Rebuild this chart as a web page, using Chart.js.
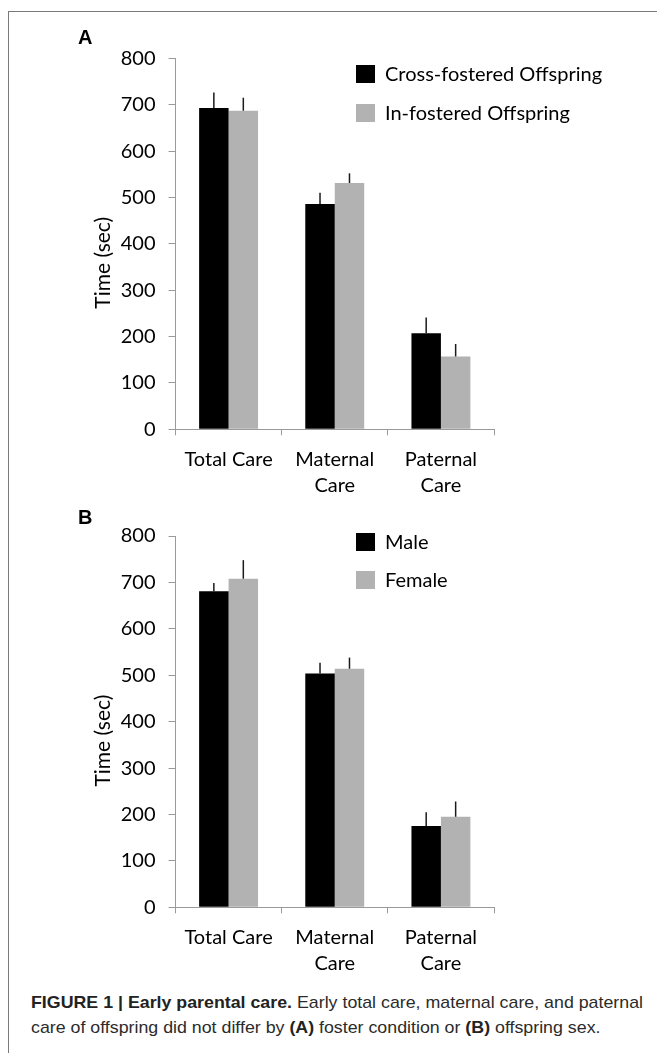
<!DOCTYPE html>
<html>
<head>
<meta charset="utf-8">
<script src="https://cdn.jsdelivr.net/npm/chart.js@4.4.1/dist/chart.umd.min.js"></script>
<style>
html,body{margin:0;padding:0;background:#fff;}
#wrap{position:relative;width:657px;height:1053px;overflow:hidden;background:#fff;}
#frame{position:absolute;left:8px;top:11px;width:800px;height:1200px;border-left:1.5px solid #7a7a7a;border-top:1.5px solid #7a7a7a;}
canvas{position:absolute;left:0;}
#cvA{top:0;}
#cvB{top:500px;}
#cap{position:absolute;left:31px;top:990px;font-family:"Liberation Sans Narrow","Liberation Sans",Arial,sans-serif;font-size:17px;color:#2b2b2b;line-height:25px;white-space:nowrap;transform-origin:0 0;}
#cap b{color:#222;}
</style>
</head>
<body>
<div id="wrap">
  <div id="frame"></div>
  <canvas id="cvA" width="657" height="500"></canvas>
  <canvas id="cvB" width="657" height="490"></canvas>
  <div id="cap"><span id="l1"><b>FIGURE 1 | Early parental care.</b> Early total care, maternal care, and paternal</span><br><span id="l2">care of offspring did not differ by <b>(A)</b> foster condition or <b>(B)</b> offspring sex.</span></div>
</div>
<script>
// ---- data ----
const categories = [["Total Care"], ["Maternal", "Care"], ["Paternal", "Care"]];
const yTickMin = 0, yTickMax = 800, yTickStep = 100;
const yAxisTitle = "Time (sec)";

const panelALabel = "A";
const seriesA1Name = "Cross-fostered Offspring";
const seriesA1 = [693, 486, 207];
const seriesA1Err = [33, 24, 34];
const seriesA2Name = "In-fostered Offspring";
const seriesA2 = [687, 531, 157];
const seriesA2Err = [28, 21, 27];

const panelBLabel = "B";
const seriesB1Name = "Male";
const seriesB1 = [681, 504, 175];
const seriesB1Err = [18, 23, 30];
const seriesB2Name = "Female";
const seriesB2 = [708, 514, 195];
const seriesB2Err = [40, 24, 33];

const BLACK = "#000000", GREY = "#b2b2b2", AXIS = "#9a9a9a";
const FONT = "Lato";

const errorBars = {
  id: "errorBars",
  afterDatasetsDraw(chart) {
    const ctx = chart.ctx, ys = chart.scales.y;
    chart.data.datasets.forEach((ds, i) => {
      const meta = chart.getDatasetMeta(i);
      meta.data.forEach((bar, j) => {
        const top = ys.getPixelForValue(ds.data[j] + ds.errors[j]);
        ctx.save();
        ctx.strokeStyle = "#1a1a1a";
        ctx.lineWidth = 1.5;
        ctx.beginPath();
        ctx.moveTo(bar.x, bar.y);
        ctx.lineTo(bar.x, top);
        ctx.stroke();
        ctx.restore();
      });
    });
  }
};

const decorations = {
  id: "decorations",
  afterDraw(chart, args, opts) {
    const ctx = chart.ctx, ca = chart.chartArea;
    ctx.save();
    ctx.font = "bold 20px 'Liberation Sans', Arial, sans-serif";
    ctx.fillStyle = "#000";
    ctx.textAlign = "left";
    ctx.textBaseline = "middle";
    ctx.fillText(opts.panel, opts.panelX, opts.panelY);
    ctx.font = "21px " + FONT;
    ctx.fillStyle = "#000";
    ctx.textAlign = "center";
    ctx.translate(ca.left - 72.5, (ca.top + ca.bottom) / 2 + 19);
    ctx.rotate(-Math.PI / 2);
    ctx.fillText(yAxisTitle, 0, 0);
    ctx.restore();
    ctx.save();
    ctx.font = "20px " + FONT;
    ctx.textAlign = "left";
    ctx.textBaseline = "middle";
    chart.data.datasets.forEach((ds, i) => {
      const y = opts.legendY[i];
      ctx.fillStyle = ds.backgroundColor;
      ctx.fillRect(opts.legendX, y, 19, 18);
      ctx.fillStyle = "#000";
      ctx.fillText(ds.label, opts.legendX + 29, y + 10);
    });
    ctx.restore();
  }
};

function makeChart(id, s1Name, s1, e1, s2Name, s2, e2, padTop, padBottom, deco) {
  return new Chart(document.getElementById(id), {
    type: "bar",
    data: {
      labels: categories,
      datasets: [
        { label: s1Name, data: s1, errors: e1, backgroundColor: BLACK, borderWidth: 0 },
        { label: s2Name, data: s2, errors: e2, backgroundColor: GREY, borderWidth: 0 }
      ]
    },
    options: {
      responsive: false,
      animation: false,
      events: [],
      categoryPercentage: 0.555,
      barPercentage: 1.0,
      layout: { padding: { top: padTop, right: 163, bottom: padBottom, left: 0 } },
      plugins: { legend: { display: false }, tooltip: { enabled: false }, decorations: deco },
      scales: {
        x: {
          offset: true,
          grid: { display: true, offset: true, drawOnChartArea: false, drawTicks: true, tickLength: 6, color: AXIS, lineWidth: 1 },
          border: { color: AXIS, width: 1 },
          ticks: { font: { family: FONT, size: 20, lineHeight: 1.3 }, color: "#000", padding: 11, maxRotation: 0, autoSkip: false },
          afterFit(s) { s.height = 70; }
        },
        y: {
          min: yTickMin, max: yTickMax,
          grid: { drawOnChartArea: false, drawTicks: true, tickLength: 7, color: AXIS, lineWidth: 1 },
          border: { color: AXIS, width: 1 },
          ticks: { stepSize: yTickStep, font: { family: FONT, size: 20 }, color: "#000", padding: 13 },
          afterFit(s) { s.width = 175.5; }
        }
      }
    },
    plugins: [errorBars, decorations]
  });
}

function fitCaption() {
  const cap = document.getElementById("cap");
  const w = document.getElementById("l1").getBoundingClientRect().width;
  const target = 612;
  cap.style.transform = "scaleX(" + (target / w) + ")";
}

function build() {
  makeChart("cvA", seriesA1Name, seriesA1, seriesA1Err, seriesA2Name, seriesA2, seriesA2Err, 58.3, 0.7,
    { panel: panelALabel, panelX: 78, panelY: 38, legendX: 356, legendY: [65, 104] });
  makeChart("cvB", seriesB1Name, seriesB1, seriesB1Err, seriesB2Name, seriesB2, seriesB2Err, 36, 12.7,
    { panel: panelBLabel, panelX: 78, panelY: 18, legendX: 356, legendY: [33, 71] });
  fitCaption();
}

if (document.fonts && document.fonts.load) {
  Promise.all([document.fonts.load("20px Lato"), document.fonts.load("bold 20px 'Liberation Sans'"), document.fonts.load("17px 'Liberation Sans Narrow'")]).then(build, build);
} else { build(); }
</script>
</body>
</html>
